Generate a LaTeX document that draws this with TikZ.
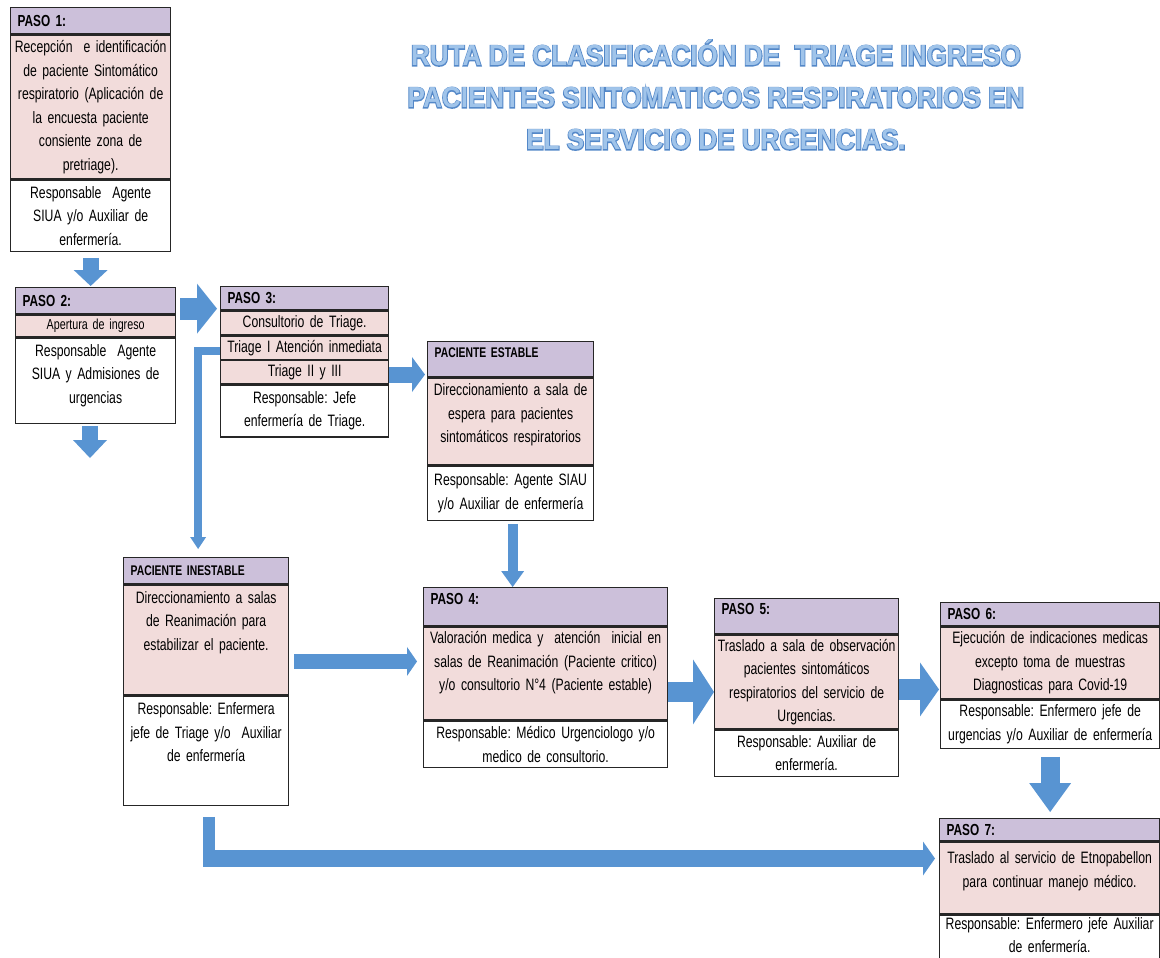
\documentclass[tikz,border=0pt]{standalone}
\usepackage{fontspec}
\setmainfont{Liberation Sans}[FakeStretch=0.74, WordSpace=0.8]
\newfontfamily\titlefont{Liberation Sans Bold}[FakeStretch=0.9]
\newfontfamily\titleedgefont{Liberation Sans Bold}[FakeStretch=0.9, FakeBold=6]
\usetikzlibrary{arrows.meta}
\frenchspacing

\definecolor{headlila}{RGB}{204,192,218}
\definecolor{bodypink}{RGB}{242,220,219}
\definecolor{flowblue}{RGB}{88,148,210}
\definecolor{titlefill}{RGB}{160,196,234}
\definecolor{titleedge}{RGB}{84,136,200}
\definecolor{boxline}{RGB}{38,38,38}

\tikzset{
	sec/.style={draw=boxline, line width=1.3pt, inner xsep=0pt, inner ysep=2pt, anchor=north, text width=#1, align=center, font=\fontsize{16.5}{23.5}\selectfont},
	head/.style={sec=#1, fill=headlila, anchor=north west, align=left, font=\bfseries\fontsize{16}{18}\selectfont, execute at begin node=\hspace*{7pt}},
	pink/.style={sec=#1, fill=bodypink},
	resp/.style={sec=#1, fill=white},
	fat/.style={draw=flowblue, line width=#1},
}

\begin{document}
\begin{tikzpicture}[x=1pt, y=-1pt]
	\useasboundingbox (0,0) rectangle (1160,958);

	\node[align=center, text=titleedge, font=\titleedgefont\fontsize{29}{42}\selectfont] (titleback) at (716,95) {RUTA DE CLASIFICACIÓN DE~ TRIAGE INGRESO\\ PACIENTES SINTOMATICOS RESPIRATORIOS EN\\ EL SERVICIO DE URGENCIAS.};
	\node[align=center, text=titlefill, font=\titlefont\fontsize{29}{42}\selectfont] (title) at (titleback) {RUTA DE CLASIFICACIÓN DE~ TRIAGE INGRESO\\ PACIENTES SINTOMATICOS RESPIRATORIOS EN\\ EL SERVICIO DE URGENCIAS.};

	% paso 1
	\node[head=160pt, minimum height=26pt] (p1h) at (10,7) {PASO 1:};
	\node[pink=160pt, minimum height=144pt] (p1b) at (p1h.south) {Recepción~ e identificación\\ de paciente Sintomático\\ respiratorio (Aplicación de\\ la encuesta paciente\\ consiente zona de\\ pretriage).};
	\node[resp=160pt, minimum height=71pt] (p1r) at (p1b.south) {Responsable~ Agente\\ SIUA y/o Auxiliar de\\ enfermería.};

	% paso 2
	\node[head=160pt, minimum height=26pt] (p2h) at (15,287) {PASO 2:};
	\node[pink=160pt, minimum height=22pt, font=\fontsize{14.5}{16}\selectfont] (p2b) at (p2h.south) {Apertura de ingreso};
	\node[resp=160pt, minimum height=85pt, text depth=61pt] (p2r) at (p2b.south) {Responsable~ Agente\\ SIUA y Admisiones de\\ urgencias};

	% paso 3
	\node[head=168pt, minimum height=23pt] (p3h) at (220,286) {PASO 3:};
	\node[pink=168pt, minimum height=24pt] (p3a) at (p3h.south) {Consultorio de Triage.};
	\node[pink=168pt, minimum height=23pt] (p3b) at (p3a.south) {Triage I Atención inmediata};
	\node[pink=168pt, minimum height=23pt] (p3c) at (p3b.south) {Triage II y III};
	\node[resp=168pt, minimum height=52pt] (p3r) at (p3c.south) {Responsable: Jefe\\ enfermería de Triage.};

	% paciente estable
	\node[head=166pt, minimum height=35pt, text depth=13.5pt, font=\bfseries\fontsize{14}{16}\selectfont] (esh) at (427,341) {PACIENTE ESTABLE};
	\node[pink=166pt, minimum height=87pt, text depth=63pt] (esb) at (esh.south) {Direccionamiento a sala de\\ espera para pacientes\\ sintomáticos respiratorios};
	\node[resp=166pt, minimum height=54pt] (esr) at (esb.south) {Responsable: Agente SIAU\\ y/o Auxiliar de enfermería};

	% paciente inestable
	\node[head=165pt, minimum height=26pt, font=\bfseries\fontsize{14}{16}\selectfont] (inh) at (123,557) {PACIENTE INESTABLE};
	\node[pink=165pt, minimum height=110pt, text depth=85pt] (inb) at (inh.south) {Direccionamiento a salas\\ de Reanimación para\\ estabilizar el paciente.};
	\node[resp=165pt, minimum height=109pt, text depth=84pt] (inr) at (inb.south) {Responsable: Enfermera\\ jefe de Triage y/o~ Auxiliar\\ de enfermería};

	% paso 4
	\node[head=244pt, minimum height=38pt, text depth=15pt] (p4h) at (423,587) {PASO 4:};
	\node[pink=244pt, minimum height=93pt, text depth=72pt] (p4b) at (p4h.south) {Valoración medica y~ atención~ inicial en\\ salas de Reanimación (Paciente critico)\\ y/o consultorio N°4 (Paciente estable)};
	\node[resp=244pt, minimum height=46pt] (p4r) at (p4b.south) {Responsable: Médico Urgenciologo y/o\\ medico de consultorio.};

	% paso 5
	\node[head=184pt, minimum height=35pt, text depth=14pt] (p5h) at (714,598) {PASO 5:};
	\node[pink=184pt, minimum height=94pt] (p5b) at (p5h.south) {Traslado a sala de observación\\ pacientes sintomáticos\\ respiratorios del servicio de\\ Urgencias.};
	\node[resp=184pt, minimum height=46pt] (p5r) at (p5b.south) {Responsable: Auxiliar de\\ enfermería.};

	% paso 6
	\node[head=219pt, minimum height=23pt] (p6h) at (940,602) {PASO 6:};
	\node[pink=219pt, minimum height=72pt] (p6b) at (p6h.south) {Ejecución de indicaciones medicas\\ excepto toma de muestras\\ Diagnosticas para Covid-19};
	\node[resp=219pt, minimum height=48pt] (p6r) at (p6b.south) {Responsable: Enfermero jefe de\\ urgencias y/o Auxiliar de enfermería};

	% paso 7
	\node[head=220pt, minimum height=22pt] (p7h) at (939,818) {PASO 7:};
	\node[pink=220pt, minimum height=72pt, text depth=40.5pt] (p7b) at (p7h.south) {Traslado al servicio de Etnopabellon\\ para continuar manejo médico.};
	\node[resp=220pt, minimum height=50pt, text depth=38pt] (p7r) at (p7b.south) {Responsable: Enfermero jefe Auxiliar\\ de enfermería.};

	% flechas
	\draw[fat=16pt, -{Triangle[width=34pt,length=16pt,line width=0pt]}, shorten <=6pt, shorten >=1pt] (p1r.south) -- (p1r.south |- p2h.north);

	\coordinate (p2end) at (90,458);
	\draw[fat=16pt, -{Triangle[width=34pt,length=18pt,line width=0pt]}, shorten <=2pt] (p2r.south -| p2end) -- (p2end);

	\draw[fat=22pt, -{Triangle[width=50pt,length=20pt,line width=0pt]}, shorten <=4pt, shorten >=3pt] ([yshift=-8pt]p2h.east) -- ([yshift=-8pt]p2h.east -| p3h.west);

	\draw[fat=16pt, -{Triangle[width=35pt,length=13pt,line width=0pt]}, shorten >=2pt] ([yshift=-2.5pt]p3c.east) -- ([yshift=-2.5pt]p3c.east -| esh.west);

	\draw[fat=8pt, -{Triangle[width=16pt,length=12pt,line width=0pt]}, shorten >=8pt] ([yshift=-3pt]p3b.west) -| ([xshift=-8pt]inh.north);

	\draw[fat=10pt, -{Triangle[width=23pt,length=16pt,line width=0pt]}, shorten <=3pt] ([xshift=2pt]esr.south) -- ([xshift=2pt]esr.south |- p4h.north);

	\draw[fat=15pt, -{Triangle[width=29pt,length=10pt,line width=0pt]}, shorten <=5pt, shorten >=6pt] ([yshift=-21.5pt]inb.east) -- ([yshift=-21.5pt]inb.east -| p4b.west);

	\draw[fat=20pt, -{Triangle[width=65pt,length=21pt,line width=0pt]}] ([yshift=-18.5pt]p4b.east) -- ([yshift=-18.5pt]p4b.east -| p5b.west);

	\draw[fat=21pt, -{Triangle[width=54pt,length=19pt,line width=0pt]}, shorten >=1pt] ([yshift=-7.5pt]p5b.east) -- ([yshift=-7.5pt]p5b.east -| p6b.west);

	\draw[fat=19pt, -{Triangle[width=42pt,length=29pt,line width=0pt]}, shorten <=8pt, shorten >=6pt] (p6r.south) -- (p6r.south |- p7h.north);

	\coordinate (bend) at (208.75,858.5);
	\draw[fat=11.5pt, shorten <=11pt] (inr.south -| bend) -- ([yshift=-8.5pt]bend);
	\draw[fat=17pt, -{Triangle[width=34pt,length=12pt,line width=0pt]}, shorten >=4pt] ([xshift=-5.75pt]bend) -- (bend -| p7b.west);
\end{tikzpicture}
\end{document}
